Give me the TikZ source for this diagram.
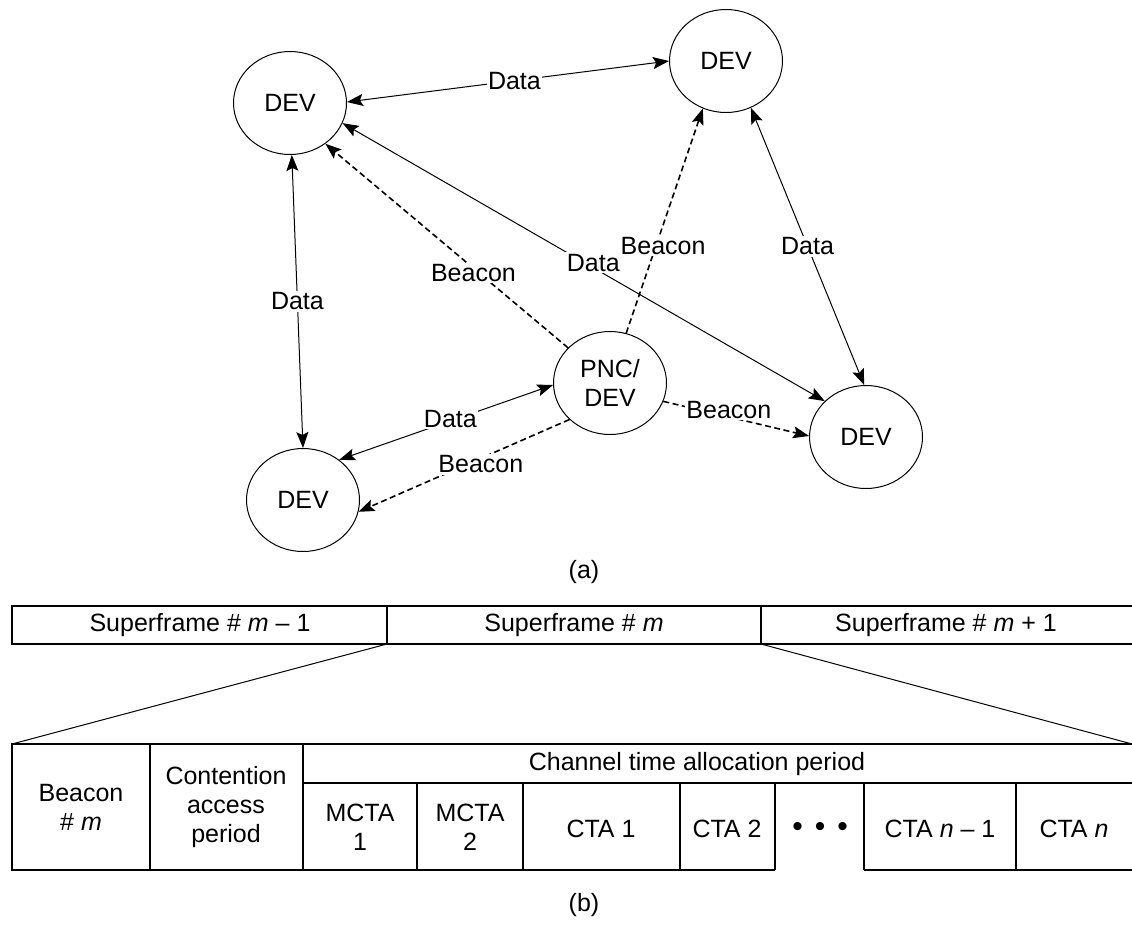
\documentclass[tikz,border=0pt]{standalone}
\usepackage{fontspec}
\setmainfont{Liberation Sans}
\usetikzlibrary{shapes.geometric,arrows.meta}

\begin{document}
\begin{tikzpicture}[x=1pt,y=-1pt,
  every node/.style={font=\fontsize{25}{29}\selectfont},
  dev/.style={draw, ellipse, line width=1pt, inner sep=0pt,
    minimum width=113pt, minimum height=103pt, align=center},
  tip/.tip={Stealth[length=16pt,width=12pt,inset=3pt]},
  link/.style={line width=1pt, tip-tip},
  beacon/.style={line width=1.6pt, dash pattern=on 6pt off 3.5pt, -tip},
  lbl/.style={fill=white, inner sep=1.5pt},
  rule/.style={line width=1.2pt},
  txt/.style={align=center, inner sep=0pt}]

\useasboundingbox (0,0) rectangle (1132,932);

% --- piconet devices
\node[dev] (tl)  at (290,103) {DEV};
\node[dev] (tr)  at (726,61)  {DEV};
\node[dev] (pnc) at (610,383) {PNC/\\DEV};
\node[dev] (br)  at (866,437) {DEV};
\node[dev] (bl)  at (303,500) {DEV};

% --- data exchanges
\draw[link] (tl.1)   -- node[lbl,pos=0.52]{Data} (tr.180);
\draw[link] (tl.-88) -- node[lbl,pos=0.5]{Data} (bl.90);
\draw[link] (tr.-62) -- node[lbl,pos=0.5]{Data} (br.92);
\draw[link] (tl.-21) -- node[lbl,pos=0.52,yshift=5pt]{Data} (br.139);
\draw[link] (bl.48)  -- node[lbl,pos=0.52,yshift=2pt]{Data} (pnc.182);

% --- beacons sent by the coordinator
\draw[beacon] (pnc.140)  -- node[lbl,pos=0.39,yshift=-5pt]{Beacon} (tl.-49);
\draw[beacon] (pnc.72)   -- node[lbl,pos=0.39,xshift=7pt]{Beacon} (tr.-116);
\draw[beacon] (pnc.-19)  -- node[lbl,pos=0.45,yshift=7pt]{Beacon} (br.179);
\draw[beacon] (pnc.-138) -- node[lbl,pos=0.42,yshift=-6pt]{Beacon} (bl.-12);

\node (capa) at (584,572) {(a)};

% --- superframe sequence
\draw[rule] (1132,606) -- (12,606) -- (12,644) -- (1132,644);
\draw[rule] (387,606) -- (387,644);
\draw[rule] (761,606) -- (761,644);
\node[txt] (sf1) at (200,625) {Superframe \# \textit{m} – 1};
\node[txt] (sf2) at (574,625) {Superframe \# \textit{m}};
\node[txt] (sf3) at (946,625) {Superframe \# \textit{m} + 1};

% --- expansion of superframe m
\coordinate (fa) at (387,644);
\coordinate (fb) at (761,644);
\coordinate (ga) at (12,744);
\coordinate (gb) at (1132,744);
\draw[line width=1pt] (fa) -- (ga);
\draw[line width=1pt] (fb) -- (gb);

\draw[rule] (1132,744) -- (12,744) -- (12,870) -- (775,870);
\draw[rule] (864,870) -- (1132,870);
\draw[rule] (303,783) -- (1132,783);
\draw[rule] (150,744) -- (150,870);
\draw[rule] (303,744) -- (303,870);
\foreach \xx in {417,523,680,775,864,1016}
  \draw[rule] (\xx,783) -- (\xx,870);

\node[txt] (bcn)  at (81,807)   {Beacon\\\# \textit{m}};
\node[txt] (cap)  at (226,807)  {Contention\\access\\period};
\node[txt] (ctap) at (697,764)  {Channel time allocation period};
\node[txt] (m1)   at (360,827)  {MCTA\\1};
\node[txt] (m2)   at (470,827)  {MCTA\\2};
\node[txt] (c1)   at (601,829)  {CTA 1};
\node[txt] (c2)   at (727,829)  {CTA 2};
\node[txt,font=\fontsize{30}{30}\selectfont] (dots) at (820,829)
  {•\hspace{12pt}•\hspace{12pt}•};
\node[txt] (cn1)  at (940,829)  {CTA \textit{n} – 1};
\node[txt] (cn)   at (1074,829) {CTA \textit{n}};

\node (capb) at (584,905) {(b)};
\end{tikzpicture}
\end{document}
